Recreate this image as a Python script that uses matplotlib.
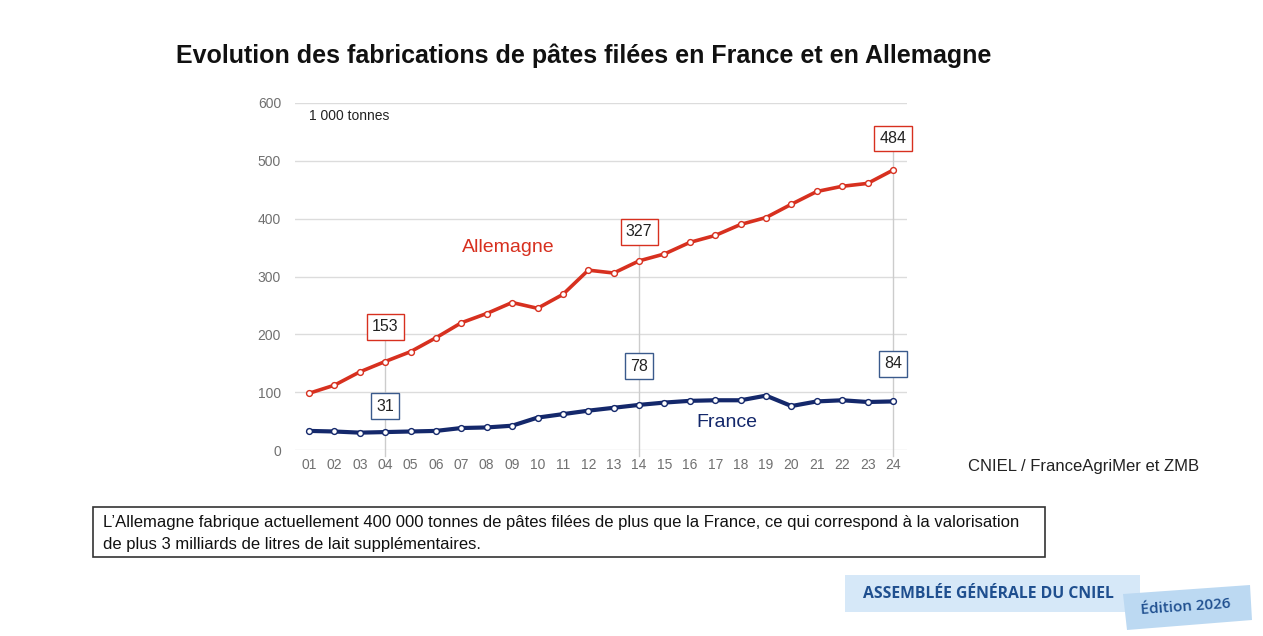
import matplotlib
matplotlib.use("Agg")
import matplotlib.pyplot as plt
from matplotlib.patches import Rectangle, Polygon

plt.rcParams['font.family'] = ['Liberation Sans', 'DejaVu Sans']

years = ["01", "02", "03", "04", "05", "06", "07", "08", "09", "10", "11", "12",
         "13", "14", "15", "16", "17", "18", "19", "20", "21", "22", "23", "24"]
allemagne = [98, 112, 135, 153, 170, 194, 220, 236, 255, 245, 269, 311,
             306, 327, 339, 359, 371, 390, 402, 425, 447, 456, 461, 484]
france = [33, 32, 30, 31, 32, 33, 38, 39, 42, 56, 62, 68,
          73, 78, 82, 85, 86, 86, 94, 76, 84, 86, 83, 84]
yticks = [0, 100, 200, 300, 400, 500, 600]
highlight_idx = [3, 13, 23]

W, H = 1263, 636
fig = plt.figure(figsize=(W / 100, H / 100), dpi=100)
fig.patch.set_facecolor("white")

def fx(px):
    return px / W

def fy(py):
    return 1 - py / H

ax = fig.add_axes([fx(295), fy(450), fx(907) - fx(295), fy(103) - fy(450)])
xs = list(range(1, len(years) + 1))

red = "#d7301f"
navy = "#14286b"
grid_c = "#dcdcdc"

ax.set_xlim(0.45, 24.55)
ax.set_ylim(0, 600)
ax.set_yticks(yticks)
ax.set_xticks(xs)
ax.set_xticklabels(years)
for s in ax.spines.values():
    s.set_visible(False)
ax.tick_params(length=0, colors="#707070", labelsize=10)
ax.tick_params(axis="y", pad=10)
ax.tick_params(axis="x", pad=6)
ax.grid(axis="y", color=grid_c, linewidth=1)
ax.set_axisbelow(True)

# highlight vertical lines and labels
box_offsets_de = [60, 50, 55]
box_offsets_fr = [45, 67, 65]
for k, i in enumerate(highlight_idx):
    x = xs[i]
    top = allemagne[i] + box_offsets_de[k]
    ax.plot([x, x], [-10, top], color="#cccccc", linewidth=1, zorder=1, clip_on=False)
    ax.text(x, top, str(allemagne[i]), ha="center", va="center", fontsize=11.5,
            color="#222222", zorder=6,
            bbox=dict(boxstyle="square,pad=0.33", facecolor="white", edgecolor=red, linewidth=1))
    ax.text(x, france[i] + box_offsets_fr[k], str(france[i]), ha="center", va="center",
            fontsize=11.5, color="#222222", zorder=6,
            bbox=dict(boxstyle="square,pad=0.33", facecolor="white", edgecolor="#3a5a8c", linewidth=1))

ax.plot(xs, allemagne, color=red, linewidth=2.6, marker="o", markersize=4.2,
        markerfacecolor="white", markeredgecolor=red, markeredgewidth=1.0,
        zorder=4, clip_on=False)
ax.plot(xs, france, color=navy, linewidth=3.0, marker="o", markersize=4.2,
        markerfacecolor="white", markeredgecolor=navy, markeredgewidth=1.0,
        zorder=4, clip_on=False)

ax.text(8.83, 351, "Allemagne", color=red, fontsize=14, ha="center", va="center")
ax.text(17.46, 48, "France", color=navy, fontsize=14, ha="center", va="center")
ax.text(1.0, 578, "1 000 tonnes", color="#222222", fontsize=10, ha="left", va="center")

# title
fig.text(fx(584), fy(56), "Evolution des fabrications de pâtes filées en France et en Allemagne",
         ha="center", va="center", fontsize=18, fontweight="bold", color="#111111")

# source
fig.text(fx(968), fy(467), "CNIEL / FranceAgriMer et ZMB", ha="left", va="center",
         fontsize=12, color="#222222")

# note box
fig.patches.append(Rectangle((fx(93), fy(557)), fx(1045) - fx(93), fy(507) - fy(557),
                             transform=fig.transFigure, facecolor="white",
                             edgecolor="#333333", linewidth=1.2))
fig.text(fx(103), fy(523),
         "L’Allemagne fabrique actuellement 400 000 tonnes de pâtes filées de plus que la France, "
         "ce qui correspond à la valorisation",
         ha="left", va="center", fontsize=12, color="#111111")
fig.text(fx(103), fy(544), "de plus 3 milliards de litres de lait supplémentaires.",
         ha="left", va="center", fontsize=12, color="#111111")

# footer badges
fig.patches.append(Rectangle((fx(845), fy(612)), fx(1140) - fx(845), fy(575) - fy(612),
                             transform=fig.transFigure, facecolor="#d6e8f8",
                             edgecolor="none"))
fig.text(fx(988), fy(594), "ASSEMBLÉE GÉNÉRALE DU CNIEL", ha="center", va="center",
         fontsize=11.3, fontweight="bold", color="#1f4f8f", family=["Open Sans", "DejaVu Sans"])
poly = Polygon([(fx(1123), fy(594)), (fx(1250), fy(585)), (fx(1252), fy(620)), (fx(1127), fy(630))],
               closed=True, transform=fig.transFigure, facecolor="#bcd9f2", edgecolor="none")
fig.patches.append(poly)
fig.text(fx(1186), fy(607), "Édition 2026", ha="center", va="center", rotation=4,
         fontsize=11, fontweight="semibold", color="#1f4f8f", family=["Open Sans", "DejaVu Sans"])

fig.savefig("out.png", dpi=100)
